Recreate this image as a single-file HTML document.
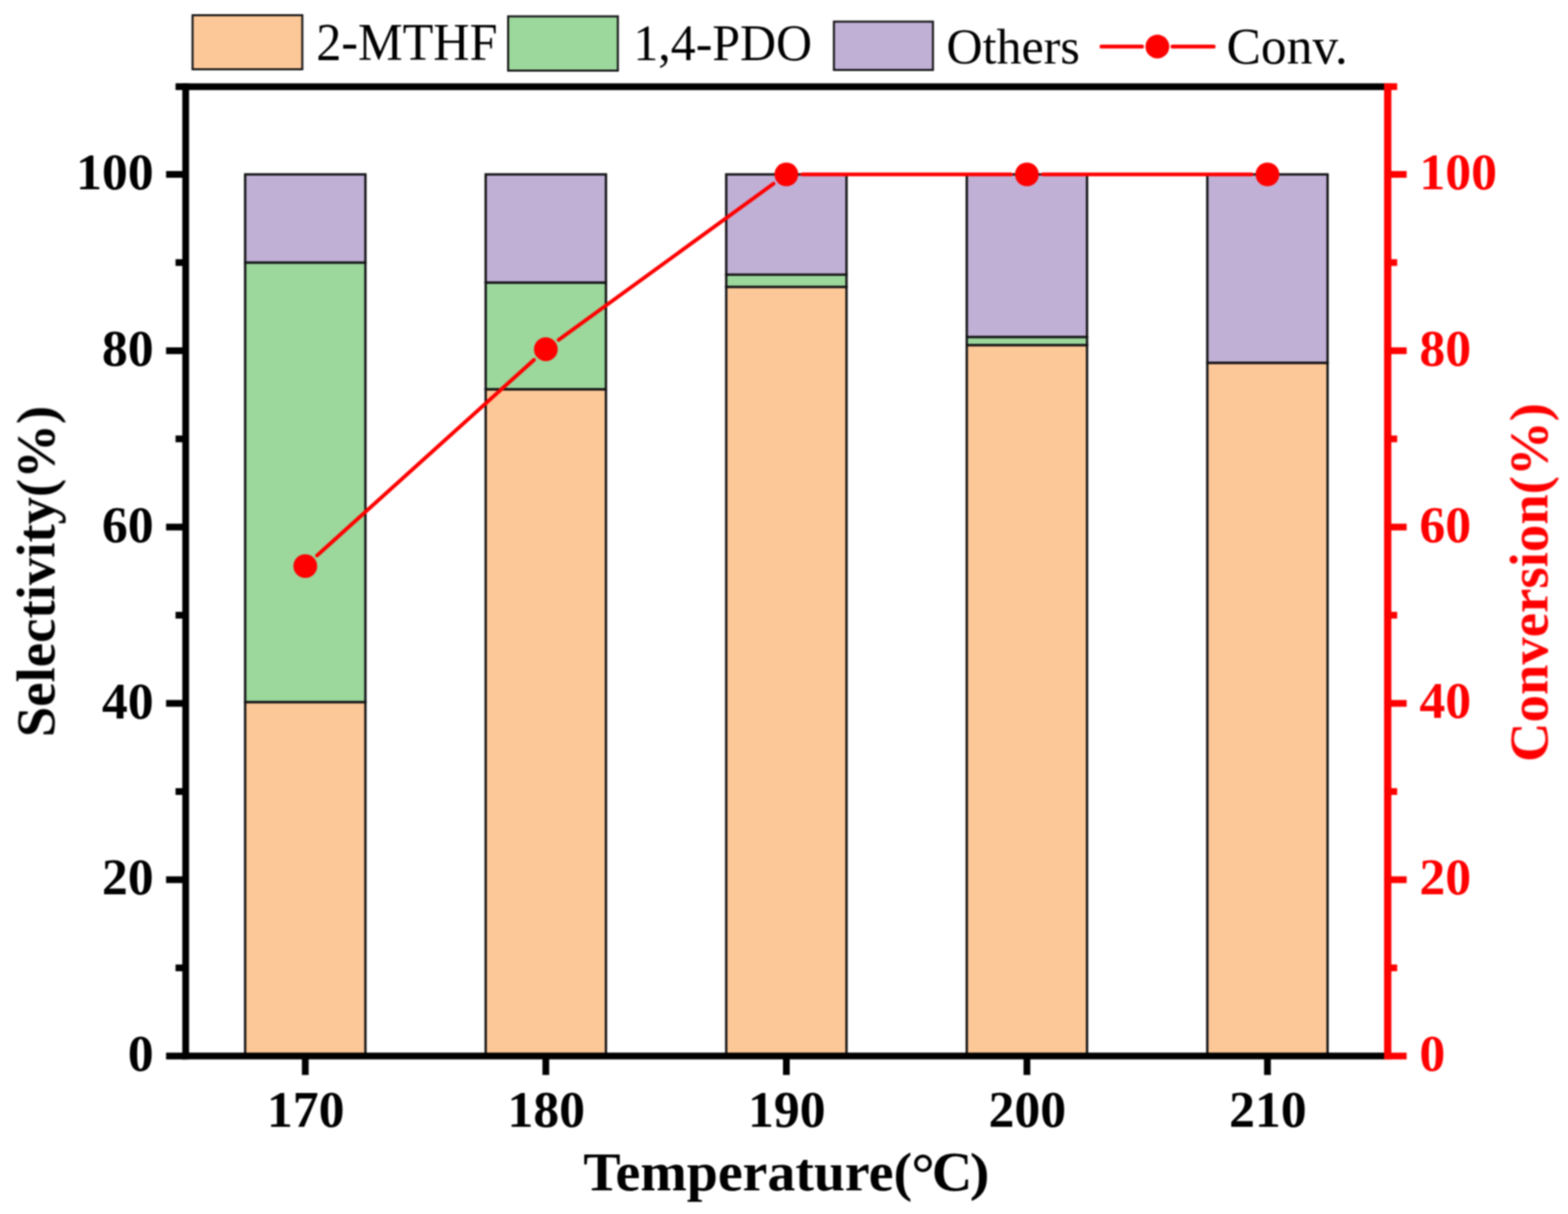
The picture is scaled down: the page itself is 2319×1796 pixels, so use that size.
<!DOCTYPE html>
<html><head><meta charset="utf-8"><title>Selectivity and Conversion vs Temperature</title>
<style>html,body{margin:0;padding:0;background:#fff;}svg{display:block;}</style>
</head><body>
<svg width="2319" height="1796" viewBox="0 0 2319 1796">
<defs><filter id="soft" filterUnits="userSpaceOnUse" x="0" y="0" width="2319" height="1796" color-interpolation-filters="sRGB"><feGaussianBlur stdDeviation="1.0"/></filter></defs>
<rect x="0" y="0" width="2319" height="1796" fill="#ffffff"/>
<g filter="url(#soft)">
<rect x="362.56" y="1038.62" width="177.88" height="523.68" fill="#FDC898" stroke="#141416" stroke-width="3.5"/>
<rect x="362.56" y="388.43" width="177.88" height="650.19" fill="#9CD79C" stroke="#141416" stroke-width="3.5"/>
<rect x="362.56" y="258.00" width="177.88" height="130.43" fill="#C1B0D6" stroke="#141416" stroke-width="3.5"/>
<rect x="718.31" y="575.86" width="177.88" height="986.44" fill="#FDC898" stroke="#141416" stroke-width="3.5"/>
<rect x="718.31" y="418.04" width="177.88" height="157.82" fill="#9CD79C" stroke="#141416" stroke-width="3.5"/>
<rect x="718.31" y="258.00" width="177.88" height="160.04" fill="#C1B0D6" stroke="#141416" stroke-width="3.5"/>
<rect x="1074.06" y="424.43" width="177.88" height="1137.87" fill="#FDC898" stroke="#141416" stroke-width="3.5"/>
<rect x="1074.06" y="406.30" width="177.88" height="18.13" fill="#9CD79C" stroke="#141416" stroke-width="3.5"/>
<rect x="1074.06" y="258.00" width="177.88" height="148.30" fill="#C1B0D6" stroke="#141416" stroke-width="3.5"/>
<rect x="1429.81" y="510.51" width="177.88" height="1051.79" fill="#FDC898" stroke="#141416" stroke-width="3.5"/>
<rect x="1429.81" y="498.51" width="177.88" height="12.00" fill="#9CD79C" stroke="#141416" stroke-width="3.5"/>
<rect x="1429.81" y="258.00" width="177.88" height="240.51" fill="#C1B0D6" stroke="#141416" stroke-width="3.5"/>
<rect x="1785.56" y="536.73" width="177.88" height="1025.57" fill="#FDC898" stroke="#141416" stroke-width="3.5"/>
<rect x="1785.56" y="258.00" width="177.88" height="278.73" fill="#C1B0D6" stroke="#141416" stroke-width="3.5"/>
<line x1="245.62" y1="1562.30" x2="274.62" y2="1562.30" stroke="#000" stroke-width="10.0"/>
<line x1="259.62" y1="1431.87" x2="274.62" y2="1431.87" stroke="#000" stroke-width="10.0"/>
<line x1="245.62" y1="1301.44" x2="274.62" y2="1301.44" stroke="#000" stroke-width="10.0"/>
<line x1="259.62" y1="1171.01" x2="274.62" y2="1171.01" stroke="#000" stroke-width="10.0"/>
<line x1="245.62" y1="1040.58" x2="274.62" y2="1040.58" stroke="#000" stroke-width="10.0"/>
<line x1="259.62" y1="910.15" x2="274.62" y2="910.15" stroke="#000" stroke-width="10.0"/>
<line x1="245.62" y1="779.72" x2="274.62" y2="779.72" stroke="#000" stroke-width="10.0"/>
<line x1="259.62" y1="649.29" x2="274.62" y2="649.29" stroke="#000" stroke-width="10.0"/>
<line x1="245.62" y1="518.86" x2="274.62" y2="518.86" stroke="#000" stroke-width="10.0"/>
<line x1="259.62" y1="388.43" x2="274.62" y2="388.43" stroke="#000" stroke-width="10.0"/>
<line x1="245.62" y1="258.00" x2="274.62" y2="258.00" stroke="#000" stroke-width="10.0"/>
<line x1="259.62" y1="128.17" x2="274.62" y2="128.17" stroke="#000" stroke-width="10.0"/>
<line x1="2052.38" y1="1562.30" x2="2080.38" y2="1562.30" stroke="#FF0000" stroke-width="10.0"/>
<line x1="2052.38" y1="1431.87" x2="2066.38" y2="1431.87" stroke="#FF0000" stroke-width="10.0"/>
<line x1="2052.38" y1="1301.44" x2="2080.38" y2="1301.44" stroke="#FF0000" stroke-width="10.0"/>
<line x1="2052.38" y1="1171.01" x2="2066.38" y2="1171.01" stroke="#FF0000" stroke-width="10.0"/>
<line x1="2052.38" y1="1040.58" x2="2080.38" y2="1040.58" stroke="#FF0000" stroke-width="10.0"/>
<line x1="2052.38" y1="910.15" x2="2066.38" y2="910.15" stroke="#FF0000" stroke-width="10.0"/>
<line x1="2052.38" y1="779.72" x2="2080.38" y2="779.72" stroke="#FF0000" stroke-width="10.0"/>
<line x1="2052.38" y1="649.29" x2="2066.38" y2="649.29" stroke="#FF0000" stroke-width="10.0"/>
<line x1="2052.38" y1="518.86" x2="2080.38" y2="518.86" stroke="#FF0000" stroke-width="10.0"/>
<line x1="2052.38" y1="388.43" x2="2066.38" y2="388.43" stroke="#FF0000" stroke-width="10.0"/>
<line x1="2052.38" y1="258.00" x2="2080.38" y2="258.00" stroke="#FF0000" stroke-width="10.0"/>
<line x1="2052.38" y1="128.17" x2="2066.38" y2="128.17" stroke="#FF0000" stroke-width="10.0"/>
<line x1="451.50" y1="1562.30" x2="451.50" y2="1590.30" stroke="#000" stroke-width="10.0"/>
<line x1="807.25" y1="1562.30" x2="807.25" y2="1590.30" stroke="#000" stroke-width="10.0"/>
<line x1="1163.00" y1="1562.30" x2="1163.00" y2="1590.30" stroke="#000" stroke-width="10.0"/>
<line x1="1518.75" y1="1562.30" x2="1518.75" y2="1590.30" stroke="#000" stroke-width="10.0"/>
<line x1="1874.50" y1="1562.30" x2="1874.50" y2="1590.30" stroke="#000" stroke-width="10.0"/>
<line x1="269.62" y1="128.17" x2="2052.38" y2="128.17" stroke="#000" stroke-width="10.0"/>
<line x1="269.62" y1="1562.30" x2="2052.38" y2="1562.30" stroke="#000" stroke-width="10.0"/>
<line x1="274.62" y1="123.17" x2="274.62" y2="1567.30" stroke="#000" stroke-width="10.0"/>
<line x1="2052.38" y1="123.17" x2="2052.38" y2="1567.30" stroke="#FF0000" stroke-width="10.8"/>
<line x1="468.95" y1="821.76" x2="789.80" y2="532.38" stroke="#FF0000" stroke-width="5.6" stroke-linecap="round"/>
<line x1="826.26" y1="502.82" x2="1143.99" y2="271.82" stroke="#FF0000" stroke-width="5.6" stroke-linecap="round"/>
<line x1="1186.50" y1="258.00" x2="1495.25" y2="258.00" stroke="#FF0000" stroke-width="5.6" stroke-linecap="round"/>
<line x1="1542.25" y1="258.00" x2="1851.00" y2="258.00" stroke="#FF0000" stroke-width="5.6" stroke-linecap="round"/>
<circle cx="451.50" cy="837.50" r="17.6" fill="#FF0000"/>
<circle cx="807.25" cy="516.64" r="17.6" fill="#FF0000"/>
<circle cx="1163.00" cy="258.00" r="17.6" fill="#FF0000"/>
<circle cx="1518.75" cy="258.00" r="17.6" fill="#FF0000"/>
<circle cx="1874.50" cy="258.00" r="17.6" fill="#FF0000"/>
<rect x="284.80" y="22.50" width="162.30" height="80.00" fill="#FDC898" stroke="#141416" stroke-width="3.0"/>
<rect x="751.50" y="24.20" width="162.30" height="80.30" fill="#9CD79C" stroke="#141416" stroke-width="3.0"/>
<rect x="1233.30" y="32.00" width="146.50" height="71.50" fill="#C1B0D6" stroke="#141416" stroke-width="3.0"/>
<line x1="1629" y1="68.9" x2="1689" y2="68.9" stroke="#FF0000" stroke-width="5.6" stroke-linecap="round"/>
<line x1="1734" y1="68.9" x2="1795" y2="68.9" stroke="#FF0000" stroke-width="5.6" stroke-linecap="round"/>
<circle cx="1711.7" cy="68.9" r="17.6" fill="#FF0000"/>
<text transform="translate(227.30,1584.30)" font-family="'Liberation Serif', 'Times New Roman', serif" font-weight="bold" font-size="76.50" fill="#000" text-anchor="end">0</text>
<text transform="translate(2099.20,1584.10)" font-family="'Liberation Serif', 'Times New Roman', serif" font-weight="bold" font-size="76.50" fill="#FF0000" text-anchor="start">0</text>
<text transform="translate(227.30,1323.44)" font-family="'Liberation Serif', 'Times New Roman', serif" font-weight="bold" font-size="76.50" fill="#000" text-anchor="end">20</text>
<text transform="translate(2099.20,1323.24)" font-family="'Liberation Serif', 'Times New Roman', serif" font-weight="bold" font-size="76.50" fill="#FF0000" text-anchor="start">20</text>
<text transform="translate(227.30,1062.58)" font-family="'Liberation Serif', 'Times New Roman', serif" font-weight="bold" font-size="76.50" fill="#000" text-anchor="end">40</text>
<text transform="translate(2099.20,1062.38)" font-family="'Liberation Serif', 'Times New Roman', serif" font-weight="bold" font-size="76.50" fill="#FF0000" text-anchor="start">40</text>
<text transform="translate(227.30,801.72)" font-family="'Liberation Serif', 'Times New Roman', serif" font-weight="bold" font-size="76.50" fill="#000" text-anchor="end">60</text>
<text transform="translate(2099.20,801.52)" font-family="'Liberation Serif', 'Times New Roman', serif" font-weight="bold" font-size="76.50" fill="#FF0000" text-anchor="start">60</text>
<text transform="translate(227.30,540.86)" font-family="'Liberation Serif', 'Times New Roman', serif" font-weight="bold" font-size="76.50" fill="#000" text-anchor="end">80</text>
<text transform="translate(2099.20,540.66)" font-family="'Liberation Serif', 'Times New Roman', serif" font-weight="bold" font-size="76.50" fill="#FF0000" text-anchor="start">80</text>
<text transform="translate(227.30,280.00)" font-family="'Liberation Serif', 'Times New Roman', serif" font-weight="bold" font-size="76.50" fill="#000" text-anchor="end">100</text>
<text transform="translate(2099.20,279.80)" font-family="'Liberation Serif', 'Times New Roman', serif" font-weight="bold" font-size="76.50" fill="#FF0000" text-anchor="start">100</text>
<text transform="translate(452.00,1667.30)" font-family="'Liberation Serif', 'Times New Roman', serif" font-weight="bold" font-size="76.50" fill="#000" text-anchor="middle">170</text>
<text transform="translate(807.75,1667.30)" font-family="'Liberation Serif', 'Times New Roman', serif" font-weight="bold" font-size="76.50" fill="#000" text-anchor="middle">180</text>
<text transform="translate(1163.50,1667.30)" font-family="'Liberation Serif', 'Times New Roman', serif" font-weight="bold" font-size="76.50" fill="#000" text-anchor="middle">190</text>
<text transform="translate(1519.25,1667.30)" font-family="'Liberation Serif', 'Times New Roman', serif" font-weight="bold" font-size="76.50" fill="#000" text-anchor="middle">200</text>
<text transform="translate(1875.00,1667.30)" font-family="'Liberation Serif', 'Times New Roman', serif" font-weight="bold" font-size="76.50" fill="#000" text-anchor="middle">210</text>
<text transform="translate(467.63,88.20) scale(0.9557,1.0000)" font-family="'Liberation Serif', 'Times New Roman', serif" font-weight="normal" font-size="77.69" fill="#000" text-anchor="start">2-MTHF</text>
<text transform="translate(936.76,89.40) scale(0.9618,1.0000)" font-family="'Liberation Serif', 'Times New Roman', serif" font-weight="normal" font-size="76.67" fill="#000" text-anchor="start">1,4-PDO</text>
<text transform="translate(1399.64,93.51) scale(0.9948,1.0000)" font-family="'Liberation Serif', 'Times New Roman', serif" font-weight="normal" font-size="74.48" fill="#000" text-anchor="start">Others</text>
<text transform="translate(1813.95,93.59) scale(1.0073,1.0000)" font-family="'Liberation Serif', 'Times New Roman', serif" font-weight="normal" font-size="75.67" fill="#000" text-anchor="start">Conv.</text>
<text transform="translate(80.25,1090.60) rotate(-90)" font-family="'Liberation Serif', 'Times New Roman', serif" font-weight="bold" font-size="81.00" fill="#000" text-anchor="start">Selectivity(%)</text>
<text transform="translate(2288.50,1127.30) rotate(-90)" font-family="'Liberation Serif', 'Times New Roman', serif" font-weight="bold" font-size="81.00" fill="#FF0000" text-anchor="start">Conversion(%)</text>
<text transform="translate(862.80,1760.60) scale(1.0170,1.0000)" font-family="'Liberation Serif', 'Times New Roman', serif" font-weight="bold" font-size="81.20" fill="#000" text-anchor="start">Temperature(</text>
<text transform="translate(1347.67,1764.56) scale(0.9886,1.0000)" font-family="'Liberation Serif', 'Times New Roman', serif" font-weight="bold" font-size="87.67" fill="#000" text-anchor="start">°</text>
<text transform="translate(1378.04,1760.67) scale(1.0016,1.0000)" font-family="'Liberation Serif', 'Times New Roman', serif" font-weight="bold" font-size="83.03" fill="#000" text-anchor="start">C</text>
<text transform="translate(1434.37,1760.09) scale(1.1291,1.0000)" font-family="'Liberation Serif', 'Times New Roman', serif" font-weight="bold" font-size="77.67" fill="#000" text-anchor="start">)</text>
</g>
</svg>
</body></html>
